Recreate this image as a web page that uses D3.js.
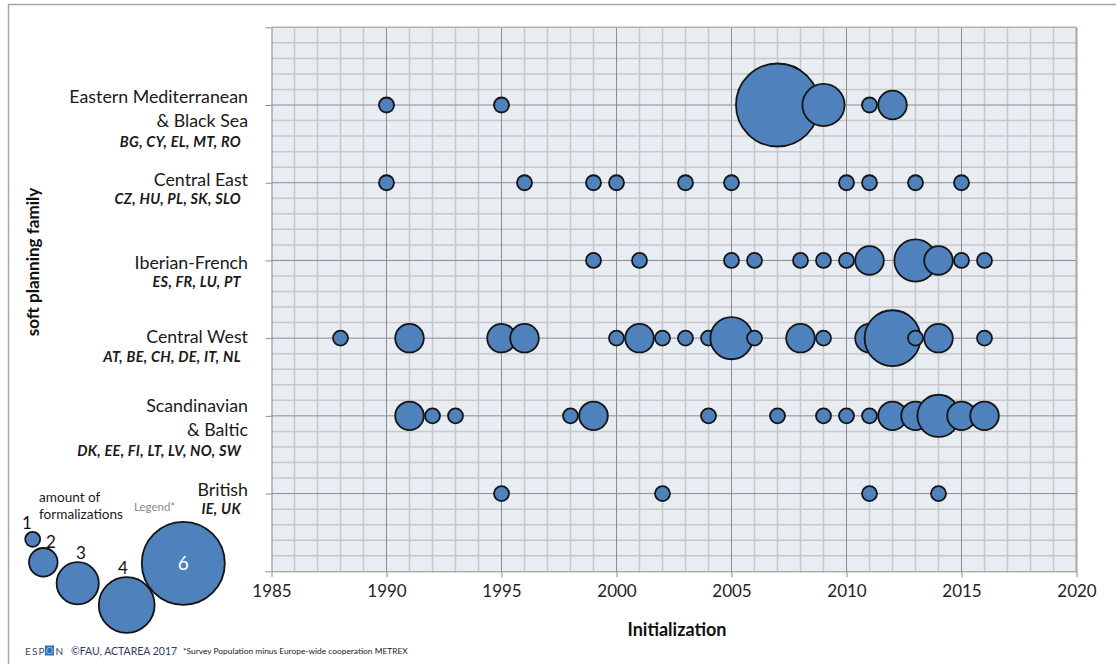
<!DOCTYPE html>
<html>
<head>
<meta charset="utf-8">
<script src="https://cdn.jsdelivr.net/npm/d3@7/dist/d3.min.js"></script>
<style>
  html, body { margin: 0; padding: 0; background: #fff; }
  svg { display: block; font-family: Lato, "Open Sans", sans-serif; }
</style>
</head>
<body>
<svg id="chart" width="1116" height="664"></svg>
<script>
// ---------- DATA ----------
const familyNames = [
  ["Eastern Mediterranean", "& Black Sea"],
  ["Central East"],
  ["Iberian-French"],
  ["Central West"],
  ["Scandinavian", "& Baltic"],
  ["British"]
];
const familyCodes = [
  "BG, CY, EL, MT, RO",
  "CZ, HU, PL, SK, SLO",
  "ES, FR, LU, PT",
  "AT, BE, CH, DE, IT, NL",
  "DK, EE, FI, LT, LV, NO, SW",
  "IE, UK"
];

const emYears  = [1990, 1995, 2007, 2009, 2011, 2012];
const emCounts = [1, 1, 6, 3, 1, 2];

const ceYears  = [1990, 1996, 1999, 2000, 2003, 2005, 2010, 2011, 2013, 2015];
const ceCounts = [1, 1, 1, 1, 1, 1, 1, 1, 1, 1];

const ibYears  = [1999, 2001, 2005, 2006, 2008, 2009, 2010, 2011, 2013, 2014, 2015, 2016];
const ibCounts = [1, 1, 1, 1, 1, 1, 1, 2, 3, 2, 1, 1];

const cwYears  = [1988, 1991, 1995, 1996, 2000, 2001, 2002, 2003, 2004, 2005, 2006, 2008, 2009, 2011, 2012, 2013, 2014, 2016];
const cwCounts = [1, 2, 2, 2, 1, 2, 1, 1, 1, 3, 1, 2, 1, 2, 4, 1, 2, 1];

const sbYears  = [1991, 1992, 1993, 1998, 1999, 2004, 2007, 2009, 2010, 2011, 2012, 2013, 2014, 2015, 2016];
const sbCounts = [2, 1, 1, 1, 2, 1, 1, 1, 1, 1, 2, 2, 3, 2, 2];

const brYears  = [1995, 2002, 2011, 2014];
const brCounts = [1, 1, 1, 1];

const xTicks = [1985, 1990, 1995, 2000, 2005, 2010, 2015, 2020];
const legendSizes = [1, 2, 3, 4, 6];

const seriesYears  = [emYears, ceYears, ibYears, cwYears, sbYears, brYears];
const seriesCounts = [emCounts, ceCounts, ibCounts, cwCounts, sbCounts, brCounts];

// ---------- SCALES ----------
const svg = d3.select("#chart");
const x = d3.scaleLinear().domain([1985, 2020]).range([271.5, 1076.5]);
const y = d3.scaleLinear().domain([0, 7]).range([571.3, 27.3]);
const r = d3.scaleLinear().domain([1, 6]).range([7.5, 41.5]);
const rowValue = i => familyNames.length - i; // 6..1

// outer frame (top + left)
svg.append("line").attr("x1", 8).attr("x2", 1116).attr("y1", 4.5).attr("y2", 4.5)
  .attr("stroke", "#a6a6a6").attr("stroke-width", 1.5);
svg.append("line").attr("x1", 8.5).attr("x2", 8.5).attr("y1", 4).attr("y2", 664)
  .attr("stroke", "#a6a6a6").attr("stroke-width", 1.5);

// plot background
svg.append("rect")
  .attr("x", x(1985)).attr("y", y(7))
  .attr("width", x(2020) - x(1985)).attr("height", y(0) - y(7))
  .attr("fill", "#e8ecf3");

const grid = svg.append("g");
grid.selectAll(".mv").data(d3.range(1986, 2020).filter(v => v % 5 !== 0)).join("line")
  .attr("x1", d => x(d)).attr("x2", d => x(d)).attr("y1", y(7)).attr("y2", y(0))
  .attr("stroke", "#c8c8c8").attr("stroke-width", 1.5);
grid.selectAll(".mh").data(d3.range(1, 35).filter(v => v % 5 !== 0).map(v => v / 5)).join("line")
  .attr("x1", x(1985)).attr("x2", x(2020)).attr("y1", d => y(d)).attr("y2", d => y(d))
  .attr("stroke", "#c8c8c8").attr("stroke-width", 1.5);
grid.selectAll(".Mv").data(xTicks.slice(1, -1)).join("line")
  .attr("x1", d => x(d)).attr("x2", d => x(d)).attr("y1", y(7)).attr("y2", y(0))
  .attr("stroke", "#8c8c8c").attr("stroke-width", 1);
grid.selectAll(".Mh").data(d3.range(1, 7)).join("line")
  .attr("x1", x(1985)).attr("x2", x(2020)).attr("y1", d => y(d)).attr("y2", d => y(d))
  .attr("stroke", "#8c8c8c").attr("stroke-width", 1);
grid.append("line").attr("x1", x(1985)).attr("x2", x(2020)).attr("y1", y(7)).attr("y2", y(7))
  .attr("stroke", "#b4b4b4").attr("stroke-width", 1.5);
grid.append("line").attr("x1", x(2020)).attr("x2", x(2020)).attr("y1", y(7)).attr("y2", y(0))
  .attr("stroke", "#a6a6a6").attr("stroke-width", 2);

// axes
const yAxis = svg.append("g").attr("transform", `translate(${x(1985)},0)`)
  .call(d3.axisLeft(y).tickValues(d3.range(0, 8)).tickFormat("").tickSize(6).tickSizeOuter(0));
yAxis.selectAll("line, path").attr("stroke", "#8c8c8c");

const xAxis = svg.append("g").attr("transform", `translate(0,${y(0)})`)
  .call(d3.axisBottom(x).tickValues(xTicks).tickFormat(d3.format("d")).tickSize(6).tickSizeOuter(0).tickPadding(8));
xAxis.selectAll("line, path").attr("stroke", "#8c8c8c");
xAxis.selectAll("text").attr("font-size", 17).attr("fill", "#222")
  .attr("font-family", "Lato, sans-serif");

// bubbles (drawn in year order so later ones overlap earlier)
const bubbles = svg.append("g");
seriesYears.forEach((yrs, i) => {
  const pts = yrs.map((yr, j) => ({ yr, n: seriesCounts[i][j], row: rowValue(i) }));
  bubbles.append("g").selectAll("circle").data(pts).join("circle")
    .attr("cx", d => x(d.yr)).attr("cy", d => y(d.row)).attr("r", d => r(d.n))
    .attr("fill", "#4f81bd").attr("stroke", "#141414").attr("stroke-width", 1.8);
});

// category labels
const labelOffsets = [[-8, 16, 37], [-3, 16], [2, 21], [-1, 19], [-10, 14, 35], [-3.5, 15]];
familyNames.forEach((lines, i) => {
  const cy = y(rowValue(i));
  const offs = labelOffsets[i];
  lines.forEach((t, k) => {
    svg.append("text").attr("x", 248).attr("y", cy + offs[k]).attr("dy", "0.35em")
      .attr("text-anchor", "end").attr("font-size", 17.8).attr("fill", "#1a1a1a").text(t);
  });
  svg.append("text").attr("x", 241).attr("y", cy + offs[lines.length]).attr("dy", "0.35em")
    .attr("text-anchor", "end").attr("font-size", 14.5).attr("font-weight", "bold")
    .attr("letter-spacing", 0.3)
    .attr("font-style", "italic").attr("fill", "#1a1a1a").text(familyCodes[i]);
});

// axis titles
svg.append("text").attr("transform", "translate(33,262) rotate(-90)")
  .attr("text-anchor", "middle").attr("dy", "0.35em")
  .attr("font-size", 17).attr("font-weight", "bold").attr("fill", "#111")
  .text("soft planning family");
svg.append("text").attr("x", 677).attr("y", 630).attr("dy", "0.35em")
  .attr("text-anchor", "middle").attr("font-size", 18).attr("font-weight", "bold").attr("fill", "#111")
  .text("Initialization");

// legend
const lg = svg.append("g");
const legendCenters = [[32.7, 539.3], [43.3, 562.3], [77.7, 583.3], [126.7, 605], [183.3, 563.3]];
const legendLabelPos = [[27, 523], [51, 542], [81, 553], [123, 568], [183.3, 563.3]];
lg.selectAll("circle").data(legendSizes).join("circle")
  .attr("cx", (d, i) => legendCenters[i][0]).attr("cy", (d, i) => legendCenters[i][1])
  .attr("r", d => r(d)).attr("fill", "#4f81bd").attr("stroke", "#141414").attr("stroke-width", 1.8);
lg.selectAll("text.num").data(legendSizes).join("text")
  .attr("x", (d, i) => legendLabelPos[i][0]).attr("y", (d, i) => legendLabelPos[i][1])
  .attr("dy", "0.35em").attr("text-anchor", "middle")
  .attr("font-size", (d, i) => i === 4 ? 19 : 17)
  .attr("fill", (d, i) => i === 4 ? "#fff" : "#111").text(d => d);
lg.append("text").attr("x", 39).attr("y", 497).attr("dy", "0.35em")
  .attr("font-size", 13.6).attr("fill", "#1a1a1a").text("amount of");
lg.append("text").attr("x", 39).attr("y", 514).attr("dy", "0.35em")
  .attr("font-size", 13.6).attr("fill", "#1a1a1a").text("formalizations");
lg.append("text").attr("x", 134).attr("y", 507).attr("dy", "0.35em")
  .attr("font-size", 11.5).attr("fill", "#8a8a8a").text("Legend*");

// footer
const ft = svg.append("g");
const espLetters = [["E", 25], ["S", 32], ["P", 38.5]];
espLetters.forEach(([ch, px]) => {
  ft.append("text").attr("x", px).attr("y", 651).attr("dy", "0.35em")
    .attr("font-size", 10).attr("fill", "#3b4a6b").text(ch);
});
ft.append("rect").attr("x", 45).attr("y", 645.5).attr("width", 9).attr("height", 10).attr("fill", "#2f6fb3");
ft.append("text").attr("x", 49.5).attr("y", 651).attr("dy", "0.35em").attr("text-anchor", "middle")
  .attr("font-size", 9.5).attr("fill", "#8fc0ea").text("O");
ft.append("text").attr("x", 55.5).attr("y", 651).attr("dy", "0.35em")
  .attr("font-size", 10).attr("fill", "#3b4a6b").text("N");
ft.append("text").attr("x", 71).attr("y", 651).attr("dy", "0.35em")
  .attr("font-size", 10.5).attr("fill", "#2d3b5a").text("©FAU, ACTAREA 2017");
ft.append("text").attr("x", 183).attr("y", 651).attr("dy", "0.35em")
  .attr("font-size", 8.4).attr("fill", "#222").text("*Survey Population minus Europe-wide cooperation METREX");
</script>
</body>
</html>
